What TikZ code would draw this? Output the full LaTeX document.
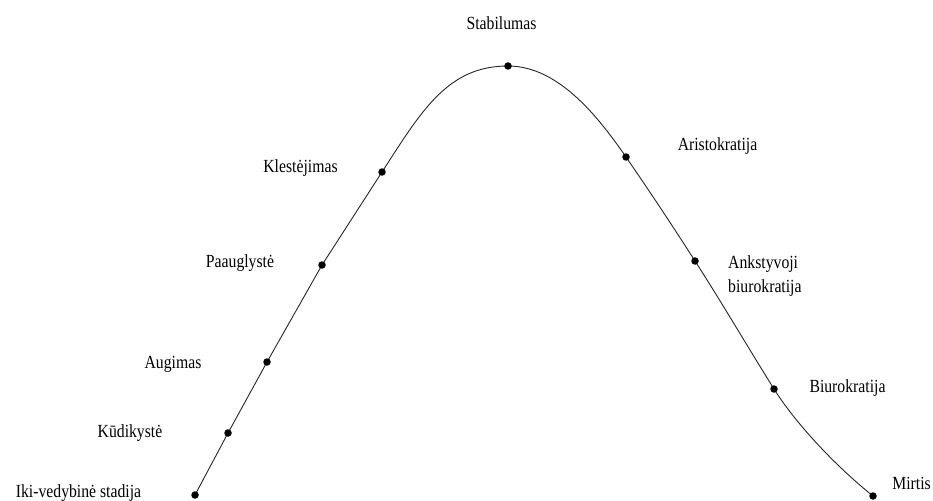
\documentclass[tikz,border=0pt]{standalone}
\usepackage{fontspec}
\setmainfont{Liberation Serif}[FakeStretch=0.85]
\begin{document}
\begin{tikzpicture}[x=1pt,y=-1pt,
  dot/.style={circle,fill=black,inner sep=0pt,minimum size=7.5pt},
  lbl/.style={anchor=base,inner sep=0pt,font=\fontsize{18.5}{22}\selectfont},
  curve/.style={line width=0.9pt,black!85}]
\useasboundingbox (0,0) rectangle (933,500);
% points on the curve
\coordinate (iki) at (195,495);
\coordinate (kud) at (228,433);
\coordinate (aug) at (267,362);
\coordinate (paa) at (322,265);
\coordinate (kle) at (382,172);
\coordinate (sta) at (508,66);
\coordinate (ari) at (626,157);
\coordinate (ank) at (695,261);
\coordinate (biu) at (774,389);
\coordinate (mir) at (873,496);
% curve
\draw[curve] (iki) -- (kud) -- (aug) -- (paa) -- (kle)
  .. controls (422,110) and (448,66) .. (sta)
  .. controls (558,66) and (597.6,115.9) .. (ari)
  .. controls (650,192) and (672.4,225.6) .. (ank)
  .. controls (722,303) and (747.5,346.6) .. (biu)
  .. controls (794,421) and (833,464) .. (mir);
% dots
\foreach \p in {iki,kud,aug,paa,kle,sta,ari,ank,biu,mir}
  \node[dot] (d\p) at (\p) {};
% labels
\node[lbl] (liki) at (78.5,497) {Iki-vedybinė stadija};
\node[lbl] (lkud) at (130,437) {Kūdikystė};
\node[lbl] (laug) at (173,368) {Augimas};
\node[lbl] (lpaa) at (240,267) {Paauglystė};
\node[lbl] (lkle) at (300.5,172) {Klestėjimas};
\node[lbl] (lsta) at (501.5,30) {Stabilumas};
\node[lbl] (lari) at (717.5,150) {Aristokratija};
\node[lbl,anchor=base west] (lank1) at (728,268) {Ankstyvoji};
\node[lbl,anchor=base west] (lank2) at (728,292) {biurokratija};
\node[lbl] (lbiu) at (847.5,392) {Biurokratija};
\node[lbl] (lmir) at (911.5,489) {Mirtis};
\end{tikzpicture}
\end{document}
